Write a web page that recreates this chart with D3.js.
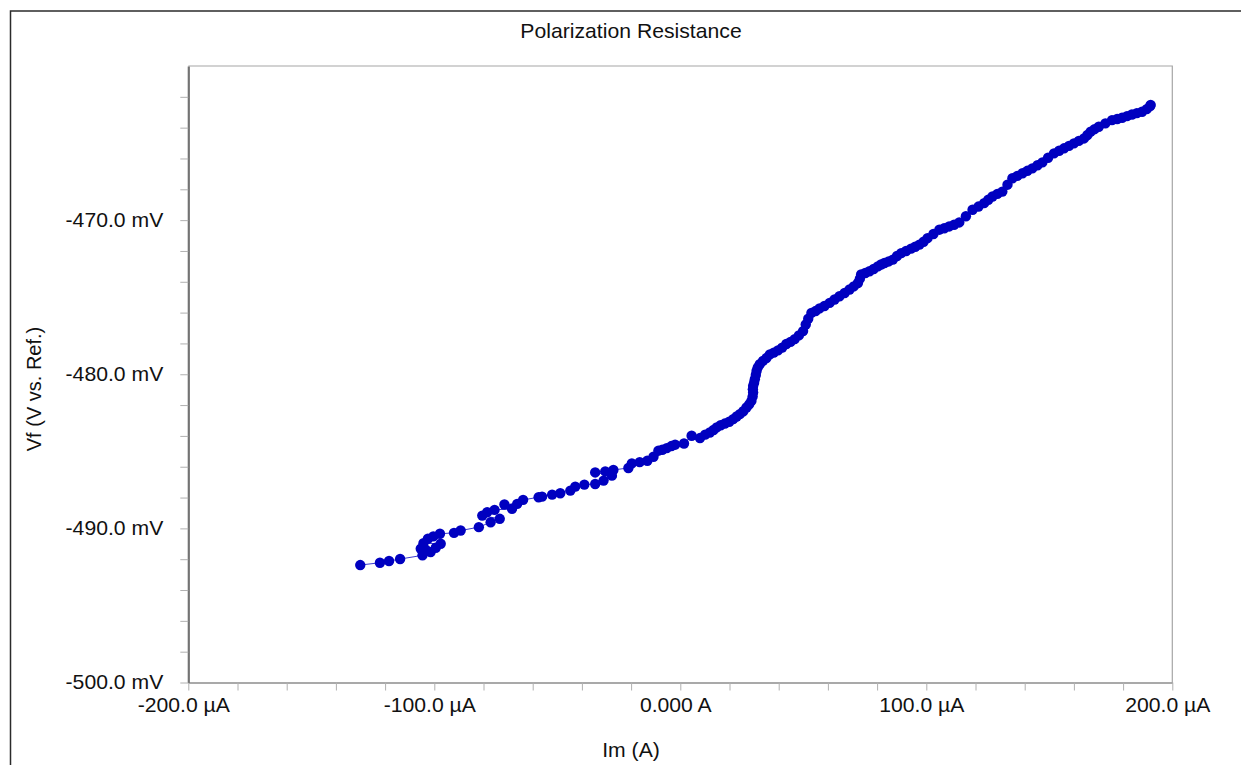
<!DOCTYPE html>
<html>
<head>
<meta charset="utf-8">
<script src="https://cdn.jsdelivr.net/npm/d3@7"></script>
<style>
  body { margin: 0; background: #fff; }
  svg text { font-family: "Liberation Sans", Arial, sans-serif; fill: #111; }
</style>
</head>
<body>
<div id="chart"></div>
<script>
// current in µA, potential in mV
var imValues = [
  -130.1, -122.1, -118.4, -113.9, -104.8, -101.5, -103.5, -105.5, -99.4, -97.4,
  -104.4, -102.6, -100.4, -97.7, -92.0, -89.3, -81.9, -77.1, -73.4, -80.5,
  -78.5, -75.5, -68.4, -71.5, -66.3, -63.9, -57.6, -56.2, -52.1, -48.8,
  -44.7, -42.7, -39.0, -34.6, -31.2, -27.8, -34.6, -30.5, -27.2, -21.1,
  -19.7, -16.5, -13.4, -10.9, -8.9, -7.3, -5.5, -3.6, -2.1, 1.5,
  4.6, 8.0, 10.1, 12.0, 13.5, 14.8, 16.4, 18.1, 19.9, 21.5,
  22.9, 24.2, 25.6, 26.9, 28.0, 28.9, 29.4, 29.6, 29.5, 29.6,
  30.0, 30.3, 30.7, 31.0, 31.5, 32.3, 33.6, 35.0, 36.4, 38.0,
  39.7, 41.4, 43.1, 44.8, 46.5, 48.2, 49.9, 51.0, 52.0, 53.3,
  55.0, 56.6, 58.6, 60.7, 62.7, 64.7, 66.8, 68.8, 70.5, 72.2,
  73.0, 73.5, 75.2, 76.9, 78.6, 80.3, 81.6, 83.0, 84.7, 86.4,
  88.1, 89.8, 91.8, 93.8, 95.5, 97.2, 98.9, 100.5, 102.9, 105.3,
  107.3, 109.3, 111.3, 113.4, 116.1, 118.8, 121.2, 123.5, 125.2, 126.9,
  128.9, 130.9, 133.0, 135.0, 137.0, 139.1, 141.1, 143.1, 145.2, 147.2,
  149.5, 151.9, 154.0, 156.0, 158.0, 160.0, 162.0, 164.1, 165.5, 166.8,
  168.4, 170.1, 172.8, 175.5, 177.6, 179.6, 181.6, 183.6, 185.6, 187.7,
  189.6, 191.0, 191.2
];
var vfValues = [
  -492.38, -492.23, -492.12, -491.99, -491.75, -491.54, -491.38, -491.32, -491.26, -491.00,
  -490.96, -490.67, -490.52, -490.35, -490.29, -490.14, -489.92, -489.60, -489.38, -489.17,
  -488.95, -488.80, -488.73, -488.45, -488.41, -488.15, -487.98, -487.94, -487.81, -487.72,
  -487.55, -487.29, -487.16, -487.12, -486.90, -486.58, -486.37, -486.30, -486.21, -486.08,
  -485.78, -485.70, -485.61, -485.35, -484.96, -484.90, -484.79, -484.66, -484.57, -484.49,
  -483.99, -484.14, -483.92, -483.78, -483.62, -483.45, -483.31, -483.20, -483.08, -482.91,
  -482.74, -482.59, -482.40, -482.16, -481.95, -481.73, -481.45, -481.19, -480.98, -480.76,
  -480.55, -480.32, -480.05, -479.79, -479.55, -479.35, -479.13, -478.95, -478.71, -478.60,
  -478.45, -478.27, -478.04, -477.90, -477.72, -477.48, -477.20, -476.77, -476.40, -476.02,
  -475.90, -475.73, -475.57, -475.37, -475.15, -474.94, -474.73, -474.50, -474.30, -474.08,
  -473.80, -473.53, -473.43, -473.32, -473.17, -473.00, -472.88, -472.78, -472.68, -472.56,
  -472.33, -472.14, -472.00, -471.85, -471.73, -471.59, -471.40, -471.17, -470.90, -470.62,
  -470.53, -470.41, -470.30, -470.15, -469.75, -469.33, -469.12, -468.90, -468.68, -468.47,
  -468.30, -468.15, -467.70, -467.28, -467.13, -466.96, -466.80, -466.64, -466.44, -466.25,
  -465.95, -465.67, -465.50, -465.34, -465.18, -465.02, -464.86, -464.70, -464.48, -464.26,
  -464.10, -463.94, -463.72, -463.51, -463.44, -463.36, -463.25, -463.15, -463.06, -462.97,
  -462.80, -462.60, -462.52
];

var xTicks = [-200, -180, -160, -140, -120, -100, -80, -60, -40, -20, 0, 20, 40, 60, 80, 100, 120, 140, 160, 180, 200];
var xLabels = [-200, -100, 0, 100, 200];
var yTicks = [-500, -498, -496, -494, -492, -490, -488, -486, -484, -482, -480, -478, -476, -474, -472, -470, -468, -466, -464, -462];
var yLabels = [-500, -490, -480, -470];

var title = "Polarization Resistance",
    xTitle = "Im (A)",
    yTitle = "Vf (V vs. Ref.)";

var data = imValues.map(function(d, i) { return { im: d, vf: vfValues[i] }; });

var svgWidth = 1241, svgHeight = 765;
var plot = { left: 188.3, right: 1172.3, top: 66, bottom: 682.5 };
var stretch = "scale(1.06,1)";

var svg = d3.select("#chart").append("svg")
    .attr("width", svgWidth)
    .attr("height", svgHeight);

// outer frame
svg.append("rect")
    .attr("x", 10.5).attr("y", 11)
    .attr("width", 1240).attr("height", 780)
    .attr("fill", "none")
    .attr("stroke", "#2b2b2b")
    .attr("stroke-width", 1.5);

var x = d3.scaleLinear().domain([-200, 200]).range([plot.left, plot.right]);
var y = d3.scaleLinear().domain([-500, -460]).range([plot.bottom, plot.top]);

// plot frame (top + right)
svg.append("path")
    .attr("d", "M" + plot.left + "," + plot.top + "H" + plot.right + "V" + plot.bottom)
    .attr("fill", "none")
    .attr("stroke", "#a6a6a6")
    .attr("stroke-width", 1.2);

var xAxis = d3.axisBottom(x)
    .tickValues(xTicks)
    .tickSize(8)
    .tickSizeOuter(0)
    .tickPadding(7)
    .tickFormat(function(d) {
      if (xLabels.indexOf(d) < 0) return "";
      return d === 0 ? "0.000 A" : d.toFixed(1) + " \u00b5A";
    });

var yAxis = d3.axisLeft(y)
    .tickValues(yTicks)
    .tickSize(8)
    .tickSizeOuter(0)
    .tickPadding(17)
    .tickFormat(function(d) {
      return yLabels.indexOf(d) < 0 ? "" : d.toFixed(1) + " mV";
    });

var gx = svg.append("g")
    .attr("transform", "translate(0," + plot.bottom + ")")
    .call(xAxis);

var gy = svg.append("g")
    .attr("transform", "translate(" + plot.left + ",0)")
    .call(yAxis);

[gx, gy].forEach(function(g) {
  g.selectAll(".tick line").attr("stroke", "#b0b0b0");
  g.selectAll("text")
      .style("font-family", "'Liberation Sans', Arial, sans-serif")
      .style("font-size", "20px")
      .attr("fill", "#111");
});
gx.select(".domain").attr("stroke", "#8c8c8c").attr("stroke-width", 1.6);
gy.select(".domain").attr("stroke", "#737373").attr("stroke-width", 2.2);
gx.selectAll(".tick text").attr("transform", "translate(-5,0) " + stretch);
gy.selectAll(".tick text").attr("transform", "translate(-25,0) " + stretch).attr("x", 0);

// connecting line
var line = d3.line()
    .x(function(d) { return x(d.im); })
    .y(function(d) { return y(d.vf); });

svg.append("path")
    .datum(data)
    .attr("fill", "none")
    .attr("stroke", "#3a3ad0")
    .attr("stroke-width", 1)
    .attr("d", line);

svg.append("g")
  .selectAll("circle")
    .data(data)
  .enter().append("circle")
    .attr("cx", function(d) { return x(d.im); })
    .attr("cy", function(d) { return y(d.vf); })
    .attr("r", 5.2)
    .attr("fill", "#0000c0");

// titles
svg.append("text")
    .attr("transform", "translate(631,38) " + stretch)
    .attr("text-anchor", "middle")
    .style("font-size", "20px")
    .text(title);

svg.append("text")
    .attr("transform", "translate(631,757) " + stretch)
    .attr("text-anchor", "middle")
    .style("font-size", "20px")
    .text(xTitle);

svg.append("text")
    .attr("transform", "translate(41,389) rotate(-90)")
    .attr("text-anchor", "middle")
    .style("font-size", "20px")
    .text(yTitle);
</script>
</body>
</html>
